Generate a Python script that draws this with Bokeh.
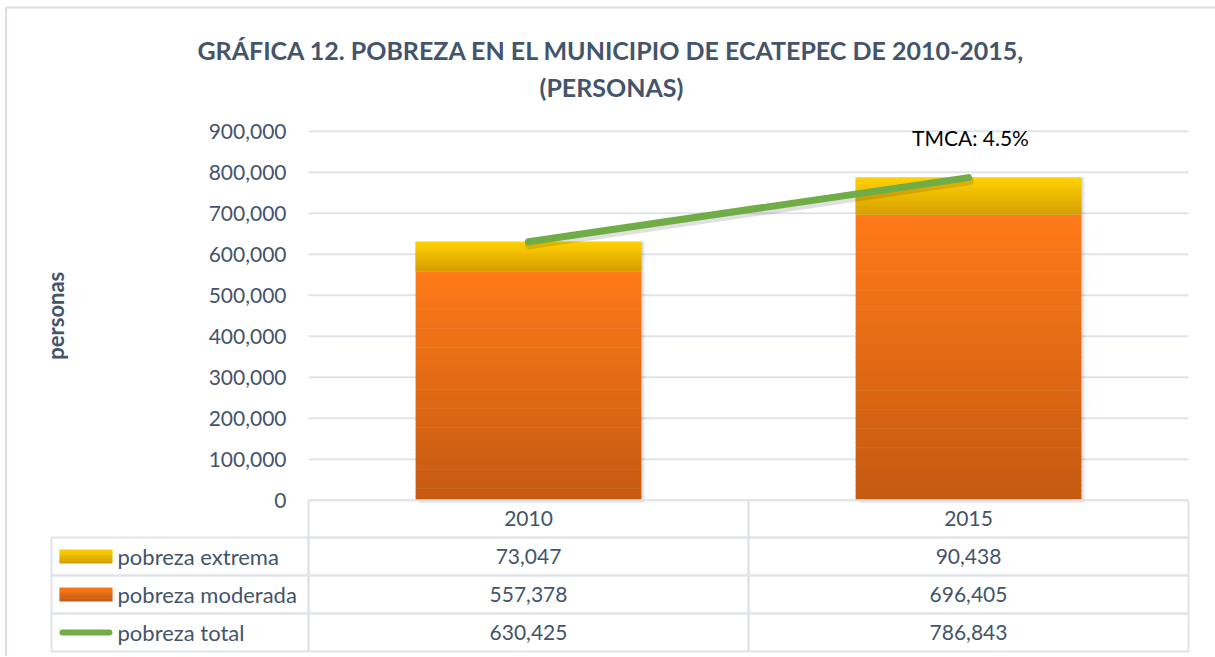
from bokeh.plotting import figure
from bokeh.models import Range1d, FixedTicker, NumeralTickFormatter, Label, ColumnDataSource
from bokeh.transform import dodge
from bokeh.embed import file_html
from bokeh.resources import INLINE
from bokeh.core.properties import value

# ---------------- data ----------------
years = ["2010", "2015"]
pobreza_extrema = [73047, 90438]
pobreza_moderada = [557378, 696405]
pobreza_total = [630425, 786843]
y_ticks = [0, 100000, 200000, 300000, 400000, 500000, 600000, 700000, 800000, 900000]
series_names = ["pobreza extrema", "pobreza moderada", "pobreza total"]
title_lines = ["GRÁFICA 12. POBREZA EN EL MUNICIPIO DE ECATEPEC DE 2010-2015,", "(PERSONAS)"]
y_label = "personas"
note_text = "TMCA: 4.5%"

# ---------------- style / layout ----------------
FONT = "Lato"
SLATE = "#44546A"
GRID = "#E0E4EA"
GREEN = "#70AD47"
MOD_TOP, MOD_BOT = (255, 122, 24), (197, 90, 17)
EXT_TOP, EXT_BOT = (255, 210, 0), (214, 158, 0)
BAR_W = 0.513
W, H = 1215, 656
PX = 100000 / 41.0          # data units per pixel (vertical)
XPX = 1 / 440.0             # category units per pixel (horizontal)
Y1 = 499.7 * PX
Y0 = Y1 - H * PX
X0 = -308 * XPX
X1 = X0 + W * XPX
row_edges = [0, -91000, -183700, -276400, -369100]
row_mid = [(row_edges[i] + row_edges[i + 1]) / 2 for i in range(4)]
LEG_LEFT = -0.584
x_pos = [i + 0.5 for i in range(len(years))]      # category centres
n_cat = len(years)


def lerp(c1, c2, t):
    return "#%02x%02x%02x" % tuple(int(round(a + (b - a) * t)) for a, b in zip(c1, c2))


p = figure(width=W, height=H, title=None,
           x_range=Range1d(X0, X1), y_range=Range1d(Y0, Y1), x_axis_location=None,
           output_backend="svg", toolbar_location=None,
           min_border_left=0, min_border_right=0, min_border_top=0, min_border_bottom=0,
           outline_line_color=None, background_fill_color="white")
p.xgrid.visible = False
p.ygrid.visible = False

ax = p.yaxis[0]
ax.ticker = FixedTicker(ticks=y_ticks)
ax.formatter = NumeralTickFormatter(format="0,0")
ax.axis_line_color = None
ax.major_tick_line_color = None
ax.minor_tick_line_color = None
ax.major_tick_out = 0
ax.major_tick_in = 0
ax.major_label_standoff = -286
ax.major_label_text_font = FONT
ax.major_label_text_font_size = "21px"
ax.major_label_text_color = SLATE

# outer chart border (left and top edges visible)
p.segment(x0=[-0.6875, -0.6875], y0=[Y0, 1201700], x1=[-0.6875, X1 + 1], y1=[1201700, 1201700],
          line_color="#D9DEE6", line_width=2)

# horizontal gridlines
p.segment(x0=[0] * len(y_ticks), x1=[n_cat] * len(y_ticks), y0=y_ticks, y1=y_ticks,
          line_color=GRID, line_width=2)

# ---------------- bar shadows ----------------
src = ColumnDataSource(dict(x=x_pos, total=pobreza_total))
for off, alpha in [(4, 0.05), (2, 0.09)]:
    p.vbar(x=dodge("x", off * XPX), top="total", bottom=-off * PX * 0.8,
           width=BAR_W, source=src, fill_color="black", fill_alpha=alpha, line_color=None)

# ---------------- gradient stacked bars ----------------
N = 60
xs, bots, tops, cols = [], [], [], []
for xc, m, e in zip(x_pos, pobreza_moderada, pobreza_extrema):
    for k in range(N):
        t = (k + 0.5) / N
        xs.append(xc)
        bots.append(m * k / N)
        tops.append(min(m * (k + 1) / N + PX * 0.6, m))
        cols.append(lerp(MOD_BOT, MOD_TOP, t))
    for k in range(N):
        t = (k + 0.5) / N
        xs.append(xc)
        bots.append(m + e * k / N)
        tops.append(min(m + e * (k + 1) / N + PX * 0.6, m + e))
        cols.append(lerp(EXT_BOT, EXT_TOP, t))
p.vbar(x=xs, bottom=bots, top=tops, width=BAR_W, fill_color=cols, line_color=None)

# ---------------- total line ----------------
p.line(x=dodge("x", 1 * XPX), y=dodge("total", -3 * PX), source=src,
       line_width=9, line_color="black", line_alpha=0.12, line_cap="round")
p.line(x="x", y="total", source=src, line_width=7, line_color=GREEN, line_cap="round")

p.add_layout(Label(x=1.5045, y=884600, text=note_text, text_align="center",
                   text_baseline="middle", text_font=FONT, text_font_size="21px",
                   text_color="black"))

# ---------------- title & axis label ----------------
for txt, yy in zip(title_lines, [1098000, 1008000]):
    p.add_layout(Label(x=0.6886, y=yy, text=txt, text_align="center", text_baseline="middle",
                       text_font=FONT, text_font_size="25px", text_font_style="bold",
                       text_color=SLATE))
p.add_layout(Label(x=-0.575, y=450000, text=y_label, angle=1.5708, text_align="center",
                   text_baseline="middle", text_font=FONT, text_font_size="22px",
                   text_font_style="bold", text_color=SLATE))

# ---------------- data table ----------------
cl, cr, ct, cb = [], [], [], []
for ci in range(n_cat):
    for ri in range(4):
        cl.append(ci); cr.append(ci + 1); ct.append(row_edges[ri]); cb.append(row_edges[ri + 1])
for ri in range(1, 4):
    cl.append(LEG_LEFT); cr.append(0); ct.append(row_edges[ri]); cb.append(row_edges[ri + 1])
p.quad(left=cl, right=cr, top=ct, bottom=cb, fill_alpha=0, line_color=GRID, line_width=2)

txt_kw = dict(text_align="center", text_baseline="middle", text_font=value(FONT),
              text_font_size="21px", text_color=SLATE)
p.text(x=x_pos, y=[row_mid[0]] * n_cat, text=years, **txt_kw)
for ri, vals in enumerate([pobreza_extrema, pobreza_moderada, pobreza_total], start=1):
    p.text(x=x_pos, y=[row_mid[ri]] * n_cat, text=[f"{v:,}" for v in vals], **txt_kw)

# legend keys
SW_L, SW_R = -0.566, -0.4455
sl, sr, st, sb, sc = [], [], [], [], []
for ri, (ctop, cbot) in zip([1, 2], [(EXT_TOP, EXT_BOT), (MOD_TOP, MOD_BOT)]):
    yc = row_mid[ri]
    n = 10
    top = yc + 7 * PX
    for k in range(n):
        tt = top - 14 * PX * k / n
        bb = top - 14 * PX * (k + 1) / n
        sl.append(SW_L); sr.append(SW_R); st.append(tt + (PX * 0.4 if k else 0)); sb.append(bb)
        sc.append(lerp(ctop, cbot, (k + 0.5) / n))
p.quad(left=sl, right=sr, top=st, bottom=sb, fill_color=sc, line_color=None)
p.line(x=[SW_L + 3 * XPX, SW_R - 3 * XPX], y=[row_mid[3]] * 2, line_width=6,
       line_color=GREEN, line_cap="round")
p.text(x=[-0.434] * 3, y=row_mid[1:], text=series_names, text_align="left",
       text_baseline="middle", text_font=value(FONT), text_font_size="22px",
       text_color=SLATE)

open("out.html", "w").write(file_html(p, INLINE))
